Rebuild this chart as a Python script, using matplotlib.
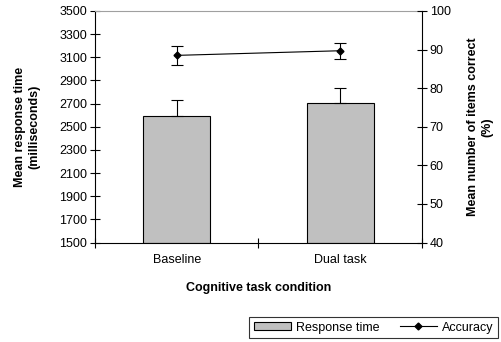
import matplotlib
matplotlib.use("Agg")
import matplotlib.pyplot as plt
from matplotlib.lines import Line2D
from matplotlib.patches import Patch

plt.rcParams['font.family'] = ['Liberation Sans', 'DejaVu Sans']

conditions = ['Baseline', 'Dual task']
resp_time = [2590, 2705]
resp_err = [140, 130]
accuracy = [88.5, 89.7]
acc_err = [2.4, 2.1]

fs = 9

fig = plt.figure(figsize=(5.02, 3.42), dpi=100)
ax = fig.add_axes([95/502, 1 - 242.5/342, 327/502, 231.5/342])

x = range(len(conditions))
ax.bar(x, [v - 1500 for v in resp_time], bottom=1500, width=0.41,
       color='#c0c0c0', edgecolor='black', linewidth=0.8, zorder=2)
ax.errorbar(x, resp_time, yerr=[[0, 0], resp_err], fmt='none', ecolor='black',
            elinewidth=0.8, capsize=4, capthick=0.8, zorder=3)
ax.set_xlim(-0.5, 1.5)
ax.set_ylim(1500, 3500)
ax.set_yticks(range(1500, 3501, 200))
ax.set_xticks([-0.5, 0.5, 1.5])
ax.set_xticklabels([])
ax.set_xticks([0, 1], minor=True)
ax.set_xticklabels(conditions, minor=True)
ax.tick_params(axis='x', which='minor', length=0, labelsize=fs, pad=8)
ax.tick_params(axis='x', which='major', direction='inout', length=7, width=0.8)
ax.tick_params(axis='y', direction='inout', length=7, width=0.8, labelsize=fs, pad=2)
ax.spines['top'].set_color('#a0a0a0')
ax.spines['right'].set_visible(False)
for s in ['left', 'bottom']:
    ax.spines[s].set_linewidth(0.8)
ax.set_ylabel('Mean response time\n(milliseconds)', fontsize=fs, fontweight='bold', labelpad=14)
ax.set_xlabel('Cognitive task condition', fontsize=fs, fontweight='bold', labelpad=12)

ax2 = ax.twinx()
ax2.errorbar(x, accuracy, yerr=acc_err, color='black', marker='D', markersize=3.5,
             linewidth=0.8, elinewidth=0.8, capsize=4, capthick=0.8)
ax2.set_ylim(40, 100)
ax2.set_yticks(range(40, 101, 10))
ax2.tick_params(axis='y', direction='inout', length=7, width=0.8, labelsize=fs, pad=2)
ax2.spines['right'].set_linewidth(0.8)
ax2.spines['top'].set_visible(False)
ax2.spines['left'].set_visible(False)
ax2.spines['bottom'].set_visible(False)
ax2.set_ylabel('Mean number of items correct\n(%)', fontsize=fs, fontweight='bold', labelpad=12)

handles = [Patch(facecolor='#c0c0c0', edgecolor='black', linewidth=0.8),
           Line2D([0], [0], color='black', marker='D', markersize=3.5, linewidth=0.8)]
leg = fig.legend(handles, ['Response time', 'Accuracy'], loc='lower right',
                 bbox_to_anchor=(498/502, 4/342), ncol=2, fontsize=fs, frameon=True,
                 fancybox=False, edgecolor='black', handlelength=3.0,
                 handleheight=0.6, handletextpad=0.4, columnspacing=1.6,
                 borderpad=0.35, borderaxespad=0)
leg.get_frame().set_linewidth(0.8)

fig.savefig('out.png', dpi=100)
